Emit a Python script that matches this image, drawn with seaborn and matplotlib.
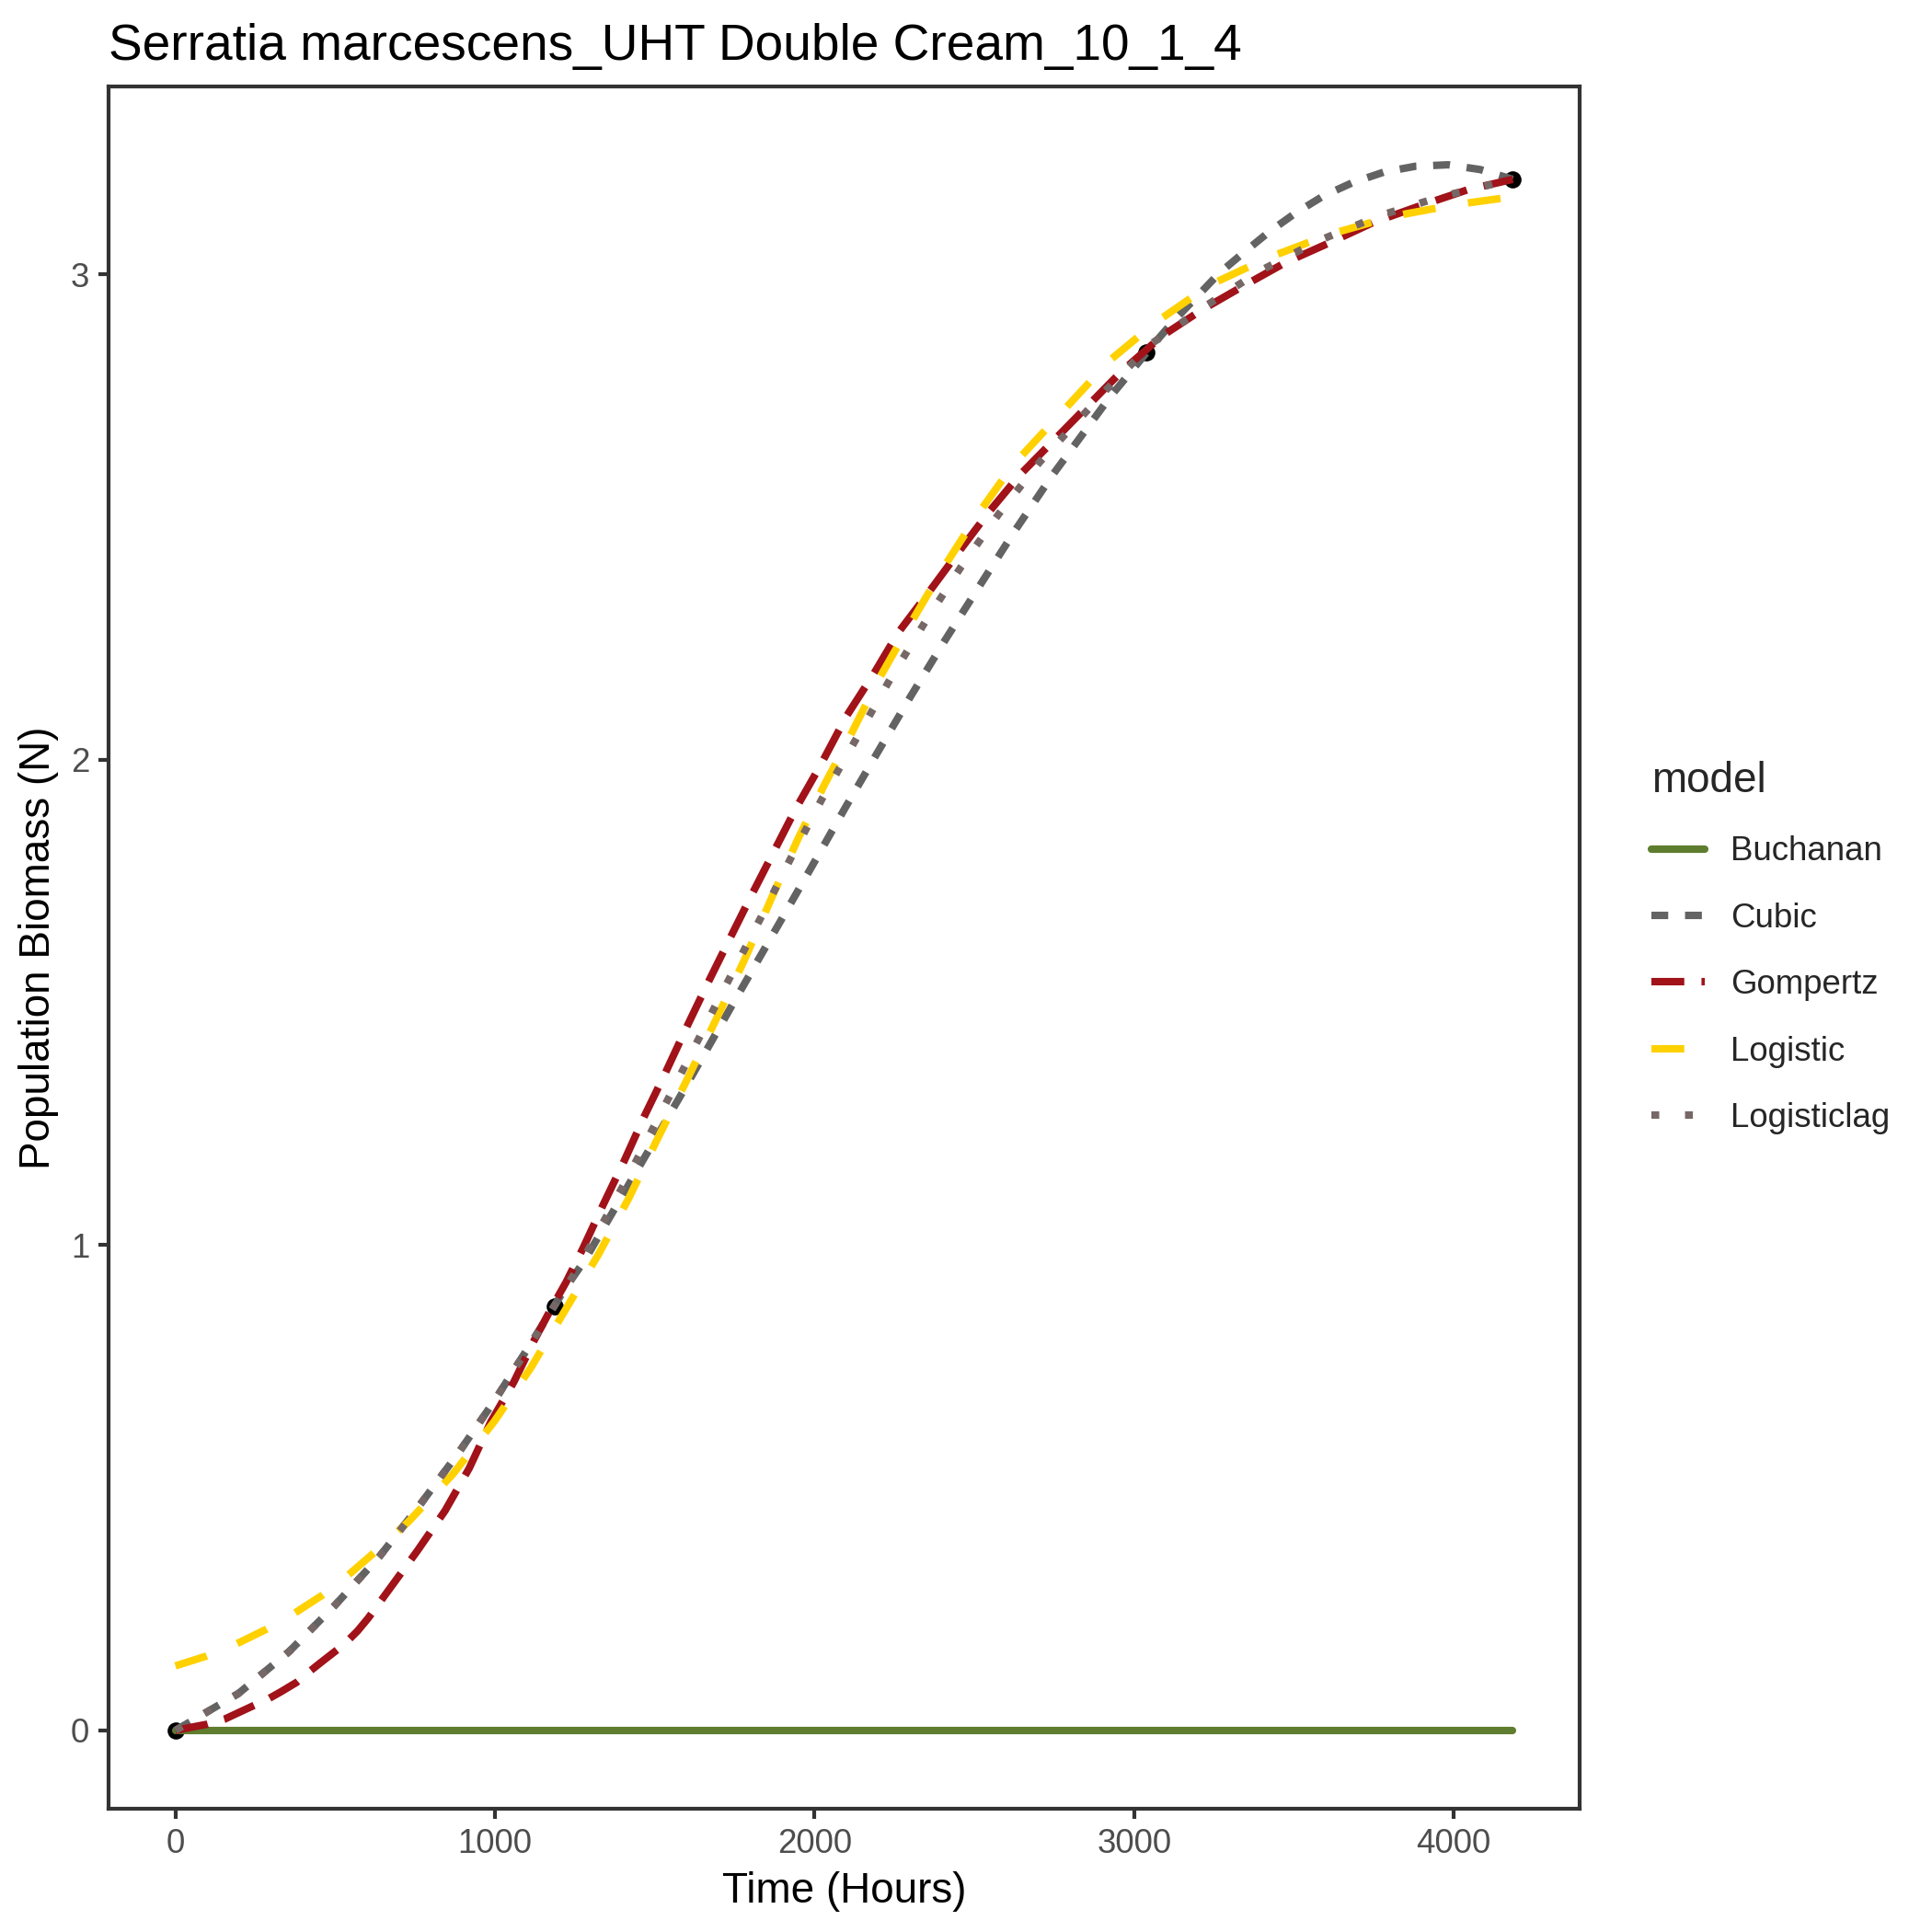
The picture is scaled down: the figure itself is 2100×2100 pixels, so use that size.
import pandas as pd
import numpy as np
import matplotlib
matplotlib.use("Agg")
import matplotlib.pyplot as plt
import seaborn as sns

# observed data
obs_time = [0, 1187, 3037, 4185]
obs_biomass = [0.0, 0.874, 2.839, 3.196]

# fitted model curves
buchanan_t = [0, 4185]
buchanan_n = [0.0, 0.0]

cubic_t = [0, 197, 355, 498, 638, 762, 887, 1002, 1112, 1217, 1280, 1433, 1587,
           1740, 1893, 1994, 2095, 2197, 2301, 2408, 2519, 2629, 2744, 2924,
           3058, 3125, 3267, 3341, 3423, 3504, 3593, 3683, 3782, 3881, 3983,
           4084, 4185]
cubic_n = [0.0, 0.076, 0.162, 0.257, 0.358, 0.462, 0.573, 0.683, 0.797, 0.908,
           0.968, 1.141, 1.315, 1.492, 1.667, 1.783, 1.900, 2.015, 2.131, 2.246,
           2.361, 2.474, 2.586, 2.747, 2.854, 2.905, 3.003, 3.044, 3.088, 3.126,
           3.162, 3.189, 3.211, 3.223, 3.226, 3.216, 3.196]

gompertz_t = [0, 53, 101, 153, 244, 288, 331, 379, 417, 455, 498, 532, 570, 604,
              666, 757, 844, 920, 987, 1059, 1122, 1179, 1222, 1275, 1337, 1404,
              1467, 1534, 1599, 1666, 1733, 1802, 1942, 2018, 2100, 2186, 2263,
              2354, 2454, 2545, 2641, 2962, 3087, 3212, 3336, 3475, 3614, 3748,
              3897, 4046, 4185]
gompertz_n = [0.0, 0.007, 0.013, 0.023, 0.051, 0.064, 0.080, 0.099, 0.120,
              0.140, 0.162, 0.180, 0.205, 0.232, 0.288, 0.370, 0.453, 0.541,
              0.636, 0.718, 0.803, 0.873, 0.923, 0.993, 1.081, 1.173, 1.265,
              1.356, 1.448, 1.540, 1.629, 1.720, 1.900, 1.988, 2.090, 2.178,
              2.263, 2.342, 2.431, 2.510, 2.586, 2.801, 2.873, 2.927, 2.974,
              3.025, 3.066, 3.107, 3.142, 3.175, 3.196]

logistic_t = [0, 96, 190, 283, 369, 458, 537, 618, 729, 868, 997, 1112, 1217,
              1323, 1419, 1510, 1601, 1689, 1778, 1860, 1946, 2032, 2104, 2195,
              2296, 2401, 2512, 2622, 2924, 3063, 3236, 3418, 3614, 3811, 4007,
              4185]
logistic_n = [0.133, 0.153, 0.178, 0.208, 0.240, 0.278, 0.318, 0.364, 0.430,
              0.528, 0.636, 0.747, 0.863, 0.980, 1.097, 1.221, 1.341, 1.461,
              1.584, 1.707, 1.834, 1.950, 2.039, 2.159, 2.276, 2.393, 2.507,
              2.608, 2.823, 2.899, 2.978, 3.034, 3.083, 3.120, 3.144, 3.160]

logisticlag_t = [0, 197, 355, 498, 638, 762, 887, 1002, 1112, 1217, 1265, 1414,
                 1555, 1695, 1836, 1927, 2023, 2138, 2240, 2347, 2459, 2577,
                 2704, 2914, 3058, 3226, 3396, 3576, 3768, 3964, 4161, 4185]
logisticlag_n = [0.0, 0.076, 0.162, 0.257, 0.358, 0.462, 0.573, 0.683, 0.797,
                 0.908, 0.958, 1.138, 1.318, 1.500, 1.680, 1.799, 1.919, 2.052,
                 2.170, 2.285, 2.398, 2.507, 2.613, 2.763, 2.859, 2.936, 3.008,
                 3.069, 3.121, 3.161, 3.192, 3.196]

models = ["Buchanan", "Cubic", "Gompertz", "Logistic", "Logisticlag"]
colors = {"Buchanan": "#5E7D2E", "Cubic": "#636363", "Gompertz": "#A11219",
          "Logistic": "#FFD100", "Logisticlag": "#766867"}
dashes = {"Buchanan": "", "Cubic": (2.25, 2.25), "Gompertz": (4.4, 2.3),
          "Logistic": (4.4, 4.4), "Logisticlag": (1.05, 3.45)}

curves = pd.concat([
    pd.DataFrame({"time": buchanan_t, "N": buchanan_n, "model": "Buchanan"}),
    pd.DataFrame({"time": cubic_t, "N": cubic_n, "model": "Cubic"}),
    pd.DataFrame({"time": gompertz_t, "N": gompertz_n, "model": "Gompertz"}),
    pd.DataFrame({"time": logistic_t, "N": logistic_n, "model": "Logistic"}),
    pd.DataFrame({"time": logisticlag_t, "N": logisticlag_n, "model": "Logisticlag"}),
], ignore_index=True)
points = pd.DataFrame({"time": obs_time, "N": obs_biomass})

sns.set_style("white")
plt.rcParams["font.family"] = ["Liberation Sans", "DejaVu Sans"]

fig = plt.figure(figsize=(7, 7), dpi=300)
ax = fig.add_axes([118 / 2100, 1 - 1966 / 2100, (1717 - 118) / 2100, (1966 - 94) / 2100])

sns.scatterplot(data=points, x="time", y="N", color="black", s=20,
                edgecolor="black", linewidth=0, ax=ax, zorder=2, legend=False)
sns.lineplot(data=curves, x="time", y="N", hue="model", style="model",
             hue_order=models, style_order=models, palette=colors,
             dashes=dashes, linewidth=1.95, errorbar=None, ax=ax, zorder=3)

# ggplot-like expansion of 5%
tmin, tmax = curves["time"].min(), curves["time"].max()
nmin, nmax = curves["N"].min(), curves["N"].max()
ax.set_xlim(tmin - 0.05 * (tmax - tmin), tmax + 0.05 * (tmax - tmin))
ax.set_ylim(nmin - 0.05 * (nmax - nmin), nmax + 0.05 * (nmax - nmin))
ax.set_xticks([0, 1000, 2000, 3000, 4000])
ax.set_yticks([0, 1, 2, 3])

for s in ax.spines.values():
    s.set_color("#333333")
    s.set_linewidth(1.0)
ax.tick_params(axis="both", which="major", length=2.75, width=1.0, color="#333333",
               labelsize=8.8, labelcolor="#4D4D4D", pad=2.2,
               bottom=True, left=True)
ax.grid(False)

ax.set_xlabel("Time (Hours)", fontsize=11, color="black", labelpad=3)
ax.set_ylabel("Population Biomass (N)", fontsize=11, color="black", labelpad=3)
ax.set_title("Serratia marcescens_UHT Double Cream_10_1_4", loc="left",
             fontsize=13.2, color="black", pad=7)

leg = ax.legend(title="model", loc="center left", bbox_to_anchor=(1.028, 0.5),
                frameon=False, fontsize=8.8, title_fontsize=11,
                handlelength=1.58, handletextpad=0.78, labelspacing=1.02,
                alignment="left")
for line in leg.get_lines():
    line.set_linewidth(1.95)

fig.savefig("out.png", dpi=300)
